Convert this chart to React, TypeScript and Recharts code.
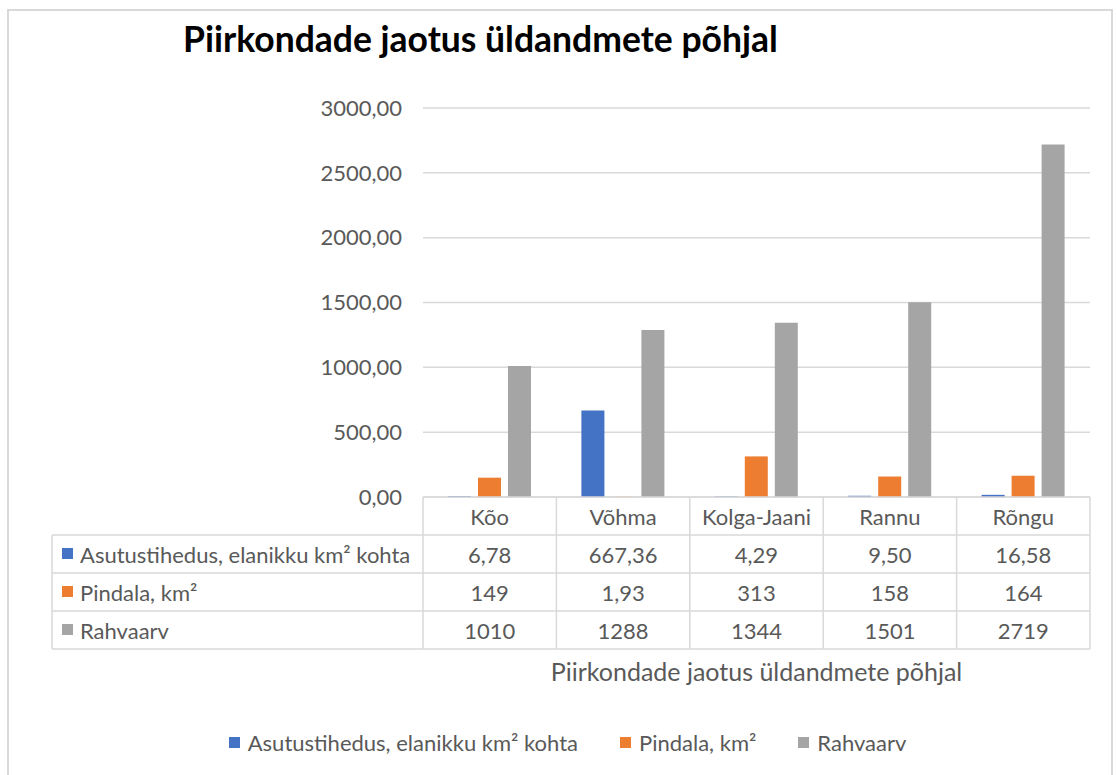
import React from 'react';
import { BarChart, Bar, XAxis, YAxis, CartesianGrid, Legend } from 'recharts';

const categories = ['Kõo', 'Võhma', 'Kolga-Jaani', 'Rannu', 'Rõngu'];
const densityValues = [6.78, 667.36, 4.29, 9.5, 16.58];
const areaValues = [149, 1.93, 313, 158, 164];
const populationValues = [1010, 1288, 1344, 1501, 2719];
const yTicks = [0, 500, 1000, 1500, 2000, 2500, 3000];
const seriesNames = ['Asutustihedus, elanikku km² kohta', 'Pindala, km²', 'Rahvaarv'];
const seriesKeys = ['density', 'area', 'population'];
const seriesColors = ['#4472C4', '#ED7D31', '#A5A5A5'];
const seriesValues = [densityValues, areaValues, populationValues];
const chartTitle = 'Piirkondade jaotus üldandmete põhjal';
const axisTitle = 'Piirkondade jaotus üldandmete põhjal';

const data = categories.map((name, i) => ({
  name,
  density: densityValues[i],
  area: areaValues[i],
  population: populationValues[i],
}));

const W = 1117;
const H = 775;
const PLOT_LEFT = 423;
const PLOT_RIGHT = 1090;
const PLOT_TOP = 108;
const PLOT_BOTTOM = 497;
const Y_AXIS_W = 100;
const X_AXIS_H = 160;
const ROW_H = 38;
const TABLE_LEFT = 52;
const BAND = (PLOT_RIGHT - PLOT_LEFT) / categories.length;
const FONT = 'Lato, "Open Sans", sans-serif';
const TEXT = '#595959';
const LINE = '#D9D9D9';
const FS = 22;

const fmtNum = (v: number) => (Number.isInteger(v) ? String(v) : v.toFixed(2).replace('.', ','));
const fmtAxis = (v: number) => v.toFixed(2).replace('.', ',');

const TableTick = (props: any) => {
  const { x, payload, index } = props;
  const left = x - BAND / 2;
  const right = x + BAND / 2;
  const top = PLOT_BOTTOM;
  const bottom = PLOT_BOTTOM + ROW_H * 4;
  const i = categories.indexOf(payload.value);
  return (
    <g>
      {index === 0 && (
        <g>
          {[1, 2, 3, 4].map((r) => (
            <line key={r} x1={TABLE_LEFT} x2={PLOT_RIGHT} y1={top + ROW_H * r} y2={top + ROW_H * r} stroke={LINE} strokeWidth={1.5} />
          ))}
          <line x1={TABLE_LEFT} x2={TABLE_LEFT} y1={top + ROW_H} y2={bottom} stroke={LINE} strokeWidth={1.5} />
          <line x1={left} x2={left} y1={top} y2={bottom} stroke={LINE} strokeWidth={1.5} />
          {seriesNames.map((s, r) => (
            <g key={s}>
              <rect x={TABLE_LEFT + 10} y={top + ROW_H * (r + 1.5) - 6} width={11} height={11} fill={seriesColors[r]} />
              <text x={TABLE_LEFT + 28} y={top + ROW_H * (r + 1.5)} dominantBaseline="central" fill={TEXT} fontSize={FS} fontFamily={FONT}>
                {s}
              </text>
            </g>
          ))}
          <text x={(PLOT_LEFT + PLOT_RIGHT) / 2} y={bottom + 22} textAnchor="middle" dominantBaseline="central" fill={TEXT} fontSize={25} fontFamily={FONT}>
            {axisTitle}
          </text>
        </g>
      )}
      <line x1={right} x2={right} y1={top} y2={bottom} stroke={LINE} strokeWidth={1.5} />
      <text x={x} y={top + ROW_H * 0.5} textAnchor="middle" dominantBaseline="central" fill={TEXT} fontSize={FS} fontFamily={FONT}>
        {payload.value}
      </text>
      {seriesValues.map((vals, r) => (
        <text key={r} x={x} y={top + ROW_H * (r + 1.5)} textAnchor="middle" dominantBaseline="central" fill={TEXT} fontSize={FS} fontFamily={FONT}>
          {fmtNum(vals[i])}
        </text>
      ))}
    </g>
  );
};

const LegendContent = () => (
  <div style={{ display: 'flex', justifyContent: 'center', alignItems: 'center', fontFamily: FONT, fontSize: FS, color: TEXT }}>
    {seriesNames.map((s, r) => (
      <div key={s} style={{ display: 'flex', alignItems: 'center', marginRight: r < seriesNames.length - 1 ? 42 : 0 }}>
        <span style={{ display: 'inline-block', width: 11, height: 11, background: seriesColors[r], marginRight: 8 }} />
        <span>{s}</span>
      </div>
    ))}
  </div>
);

export default function App() {
  return (
    <div style={{ position: 'absolute', left: 0, top: 0, width: W, height: H, background: '#fff', overflow: 'hidden' }}>
      <div style={{ position: 'absolute', left: 7, top: 9, width: 1106, height: 800, border: `2px solid ${LINE}`, boxSizing: 'border-box' }} />
      <div style={{ position: 'absolute', left: 183, top: 17, fontFamily: FONT, fontWeight: 700, fontSize: 35.5, lineHeight: '44px', color: '#000', whiteSpace: 'nowrap' }}>
        {chartTitle}
      </div>
      <div style={{ position: 'absolute', left: 0, top: 0 }}>
        <BarChart
          width={W}
          height={H}
          data={data}
          margin={{ top: PLOT_TOP, right: W - PLOT_RIGHT, left: PLOT_LEFT - Y_AXIS_W, bottom: H - PLOT_BOTTOM - X_AXIS_H }}
          barSize={23}
          barGap={7}
        >
          <CartesianGrid vertical={false} stroke={LINE} strokeWidth={1.5} />
          <XAxis
            dataKey="name"
            height={X_AXIS_H}
            axisLine={{ stroke: LINE, strokeWidth: 1.5 }}
            tickLine={false}
            tick={<TableTick />}
            interval={0}
          />
          <YAxis
            width={Y_AXIS_W}
            domain={[0, 3000]}
            ticks={yTicks}
            tickFormatter={fmtAxis}
            axisLine={false}
            tickLine={false}
            tickSize={0}
            tickMargin={21}
            tick={{ fill: TEXT, fontSize: FS, fontFamily: FONT }}
          />
          <Legend verticalAlign="middle" align="center" wrapperStyle={{ top: 729, left: 9, width: W }} content={<LegendContent />} />
          {seriesKeys.map((k, r) => (
            <Bar key={k} dataKey={k} name={seriesNames[r]} fill={seriesColors[r]} isAnimationActive={false} />
          ))}
        </BarChart>
      </div>
    </div>
  );
}
